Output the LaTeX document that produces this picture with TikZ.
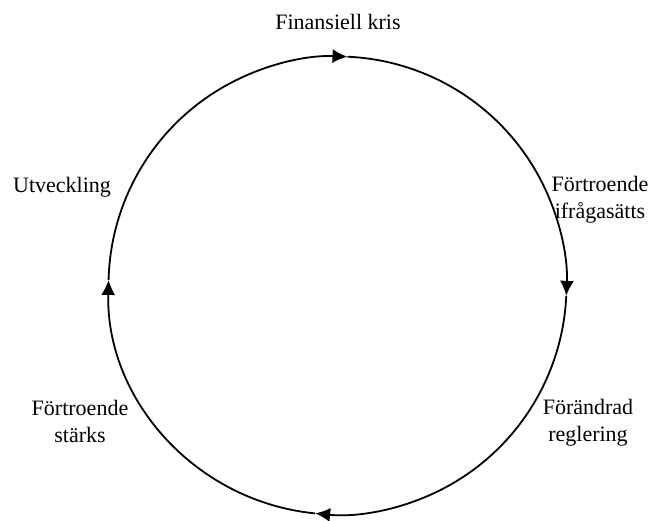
\documentclass[tikz,border=0pt]{standalone}
\usepackage{fontspec}
\setmainfont{Liberation Serif}
\usetikzlibrary{arrows.meta,calc}
\tikzset{
  lbl/.style={align=center, inner sep=0pt, font=\fontsize{22}{27}\selectfont},
  cyc/.style={line width=1.8pt, -{Latex[length=15pt,width=14pt]}}
}
\begin{document}
\begin{tikzpicture}[x=1pt,y=1pt]
    \useasboundingbox (0,0) rectangle (658,520);
    \coordinate (c) at (337.5,234.5);
    % arrow points on the cycle
    \coordinate (pl) at ($(c)+(178.6:229)$);
    \coordinate (pt) at ($(c)+(87.5:229)$);
    \coordinate (pr) at ($(c)+(-2.6:229)$);
    \coordinate (pb) at ($(c)+(-95.6:229)$);
    \draw[cyc] (pl) arc[start angle=178.6, end angle=87.5, radius=229];
    \draw[cyc] (pt) arc[start angle=87.5, end angle=-2.6, radius=229];
    \draw[cyc] (pr) arc[start angle=-2.6, end angle=-95.6, radius=229];
    \draw[cyc] (pb) arc[start angle=264.4, end angle=178.6, radius=229];
    \node[lbl] (kris) at (338,498) {Finansiell kris};
    \node[lbl] (ifraga) at (600,320) {Förtroende\\ifrågasätts};
    \node[lbl] (regl) at (588,97) {Förändrad\\reglering};
    \node[lbl] (starks) at (80,99) {Förtroende\\stärks};
    \node[lbl] (utv) at (62,333) {Utveckling};
\end{tikzpicture}
\end{document}
